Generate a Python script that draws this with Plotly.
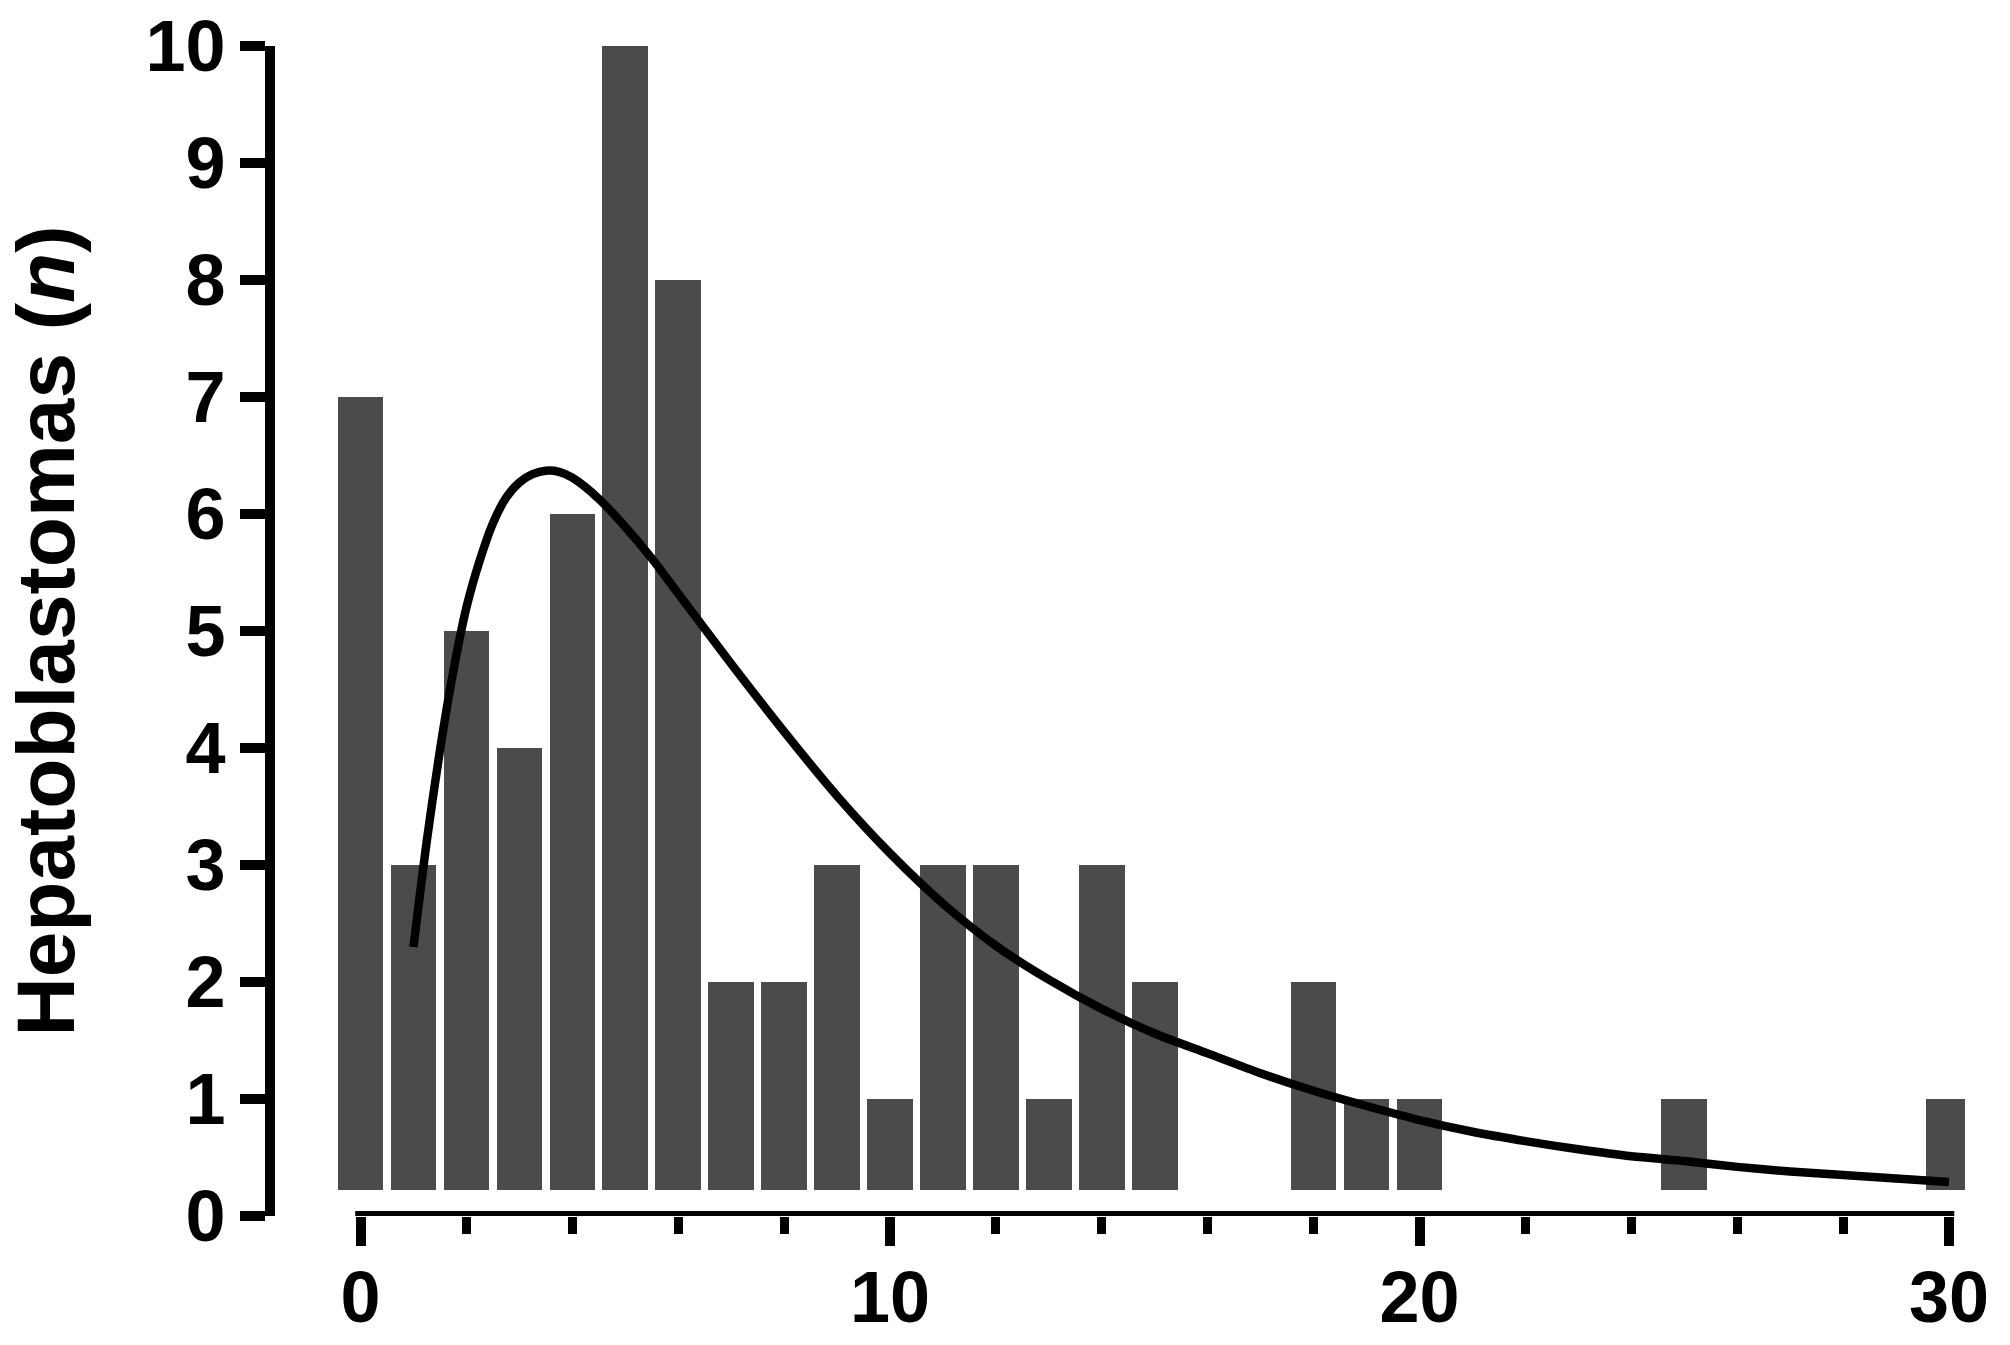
import plotly.graph_objects as go

# ---- data ----
age = list(range(31))
count = [7, 3, 5, 4, 6, 10, 8, 2, 2, 3, 1, 3, 3, 1, 3, 2, 0, 0, 2, 1, 1,
         0, 0, 0, 0, 1, 0, 0, 0, 0, 1]

fit_x = [1.0, 1.25, 1.5, 1.75, 2.0, 2.25, 2.5, 2.75, 3.0, 3.25, 3.5, 3.75,
         4.0, 4.5, 5.0, 5.5, 6.0, 7, 8, 9, 10, 11, 12, 13, 14, 15, 16, 17,
         18, 19, 20, 21, 22, 23, 24, 25, 26, 27, 28, 29, 30]
fit_y = [2.3, 3.2, 3.98, 4.65, 5.2, 5.6, 5.92, 6.14, 6.27, 6.34, 6.37, 6.36,
         6.31, 6.13, 5.89, 5.62, 5.32, 4.72, 4.14, 3.59, 3.1, 2.67, 2.31,
         2.02, 1.77, 1.56, 1.39, 1.22, 1.07, 0.94, 0.82, 0.72, 0.64, 0.57,
         0.51, 0.47, 0.42, 0.38, 0.35, 0.32, 0.29]

y_ticks = list(range(0, 11))
x_ticks = [0, 10, 20, 30]
y_title = "Hepatoblastomas (<i>n</i>)"

# ---- style ----
FONT = "Liberation Sans, Arial, sans-serif"
BAR_COLOR = "#4b4b4b"
BASE = 0.22
AXW = 9

bx = [a for a, c in zip(age, count) if c > 0]
by = [c - BASE for c in count if c > 0]

fig = go.Figure()
fig.add_trace(go.Bar(x=bx, y=by, base=BASE, width=0.86,
                     marker=dict(color=BAR_COLOR, line=dict(width=0)),
                     showlegend=False))
fig.add_trace(go.Scatter(x=fit_x, y=fit_y, mode="lines",
                         line=dict(color="black", width=8.5, shape="spline",
                                   smoothing=0.8),
                         showlegend=False))

# x axis line (offset style, spanning the data range only)
fig.add_shape(type="line", xref="x", yref="y",
              x0=min(age) - 0.1, x1=max(age) + 0.1, y0=0, y1=0,
              line=dict(color="black", width=10))

fig.update_layout(
    width=2010, height=1345,
    margin=dict(l=275, r=45, t=46, b=129),
    plot_bgcolor="white", paper_bgcolor="white",
    font=dict(family=FONT, color="black"),
    bargap=0,
)
fig.update_xaxes(
    range=[-1.615, 30.302], showgrid=False, zeroline=False, showline=False,
    automargin=False,
    tickmode="array", tickvals=x_ticks, ticktext=[str(v) for v in x_ticks],
    ticks="outside", ticklen=29, tickwidth=AXW + 1, tickcolor="black",
    ticklabelstandoff=-10,
    tickfont=dict(size=72, family=FONT, weight="bold"),
    minor=dict(dtick=2, tick0=0, ticks="outside", ticklen=17,
               tickwidth=AXW, tickcolor="black"),
)
fig.update_yaxes(
    range=[0, 10], showgrid=False, zeroline=False,
    showline=True, linewidth=AXW + 1, linecolor="black",
    automargin=False,
    tickmode="array", tickvals=y_ticks, ticktext=[str(v) for v in y_ticks],
    ticks="outside", ticklen=25, tickwidth=AXW + 1, tickcolor="black",
    tickfont=dict(size=72, family=FONT, weight="bold"),
    title=dict(text=y_title, font=dict(size=82, family=FONT, weight="bold"),
               standoff=63),
)

fig.write_html("out.html",
               config={"displayModeBar": False},
               post_script="document.body.style.margin='0px';"
                           "document.body.style.padding='0px';")
